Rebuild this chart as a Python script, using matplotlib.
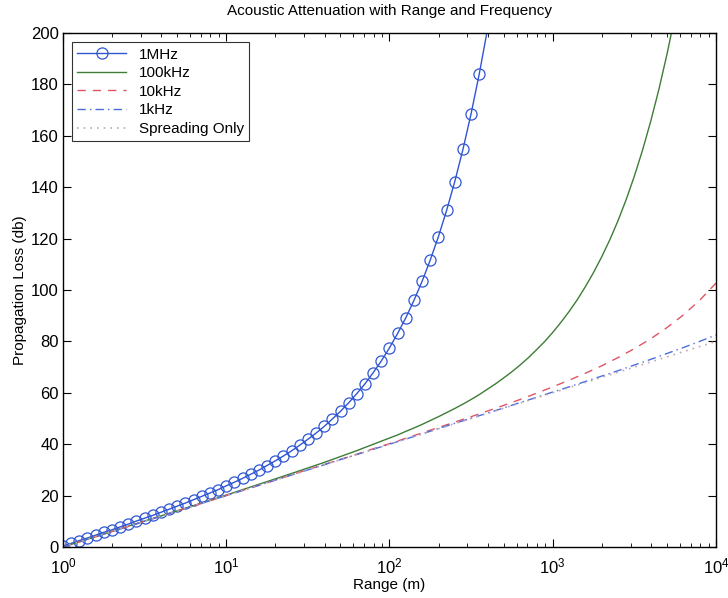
import numpy as np
import matplotlib
matplotlib.use('Agg')
import matplotlib.pyplot as plt

plt.rcParams['font.family'] = ['Liberation Sans', 'DejaVu Sans']

# range grid for the 1MHz markers (20 points per decade)
r_1mhz = [1.0, 1.122, 1.259, 1.413, 1.585, 1.778, 1.995, 2.239, 2.512, 2.818,
          3.162, 3.548, 3.981, 4.467, 5.012, 5.623, 6.310, 7.079, 7.943, 8.913,
          10.0, 11.22, 12.59, 14.13, 15.85, 17.78, 19.95, 22.39, 25.12, 28.18,
          31.62, 35.48, 39.81, 44.67, 50.12, 56.23, 63.10, 70.79, 79.43, 89.13,
          100.0, 112.2, 125.9, 141.3, 158.5, 177.8, 199.5, 223.9, 251.2, 281.8,
          316.2, 354.8, 398.1]
loss_1mhz = [0.4, 1.4, 2.5, 3.5, 4.6, 5.7, 6.7, 7.8, 8.9, 10.1,
             11.2, 12.3, 13.5, 14.7, 15.9, 17.1, 18.4, 19.7, 21.0, 22.3,
             23.8, 25.2, 26.7, 28.3, 29.9, 31.7, 33.5, 35.4, 37.4, 39.6,
             41.9, 44.3, 46.9, 49.8, 52.8, 56.1, 59.7, 63.5, 67.8, 72.4,
             77.5, 83.1, 89.2, 96.0, 103.4, 111.7, 120.8, 131.0, 142.2, 154.7,
             168.6, 184.1, 201.3]

# 100kHz, denser where the curve bends up
r_100khz = [1.0, 1.585, 2.512, 3.981, 6.310, 10.0, 15.85, 25.12, 39.81, 63.10,
            100.0, 112.2, 125.9, 141.3, 158.5, 177.8, 199.5, 223.9, 251.2,
            281.8, 316.2, 354.8, 398.1, 446.7, 501.2, 562.3, 631.0, 707.9,
            794.3, 891.3, 1000.0, 1122.0, 1259.0, 1413.0, 1585.0, 1778.0,
            1995.0, 2239.0, 2512.0, 2818.0, 3162.0, 3548.0, 3981.0, 4467.0,
            5012.0, 5623.0]
loss_100khz = [0.0, 4.0, 8.1, 12.1, 16.1, 20.2, 24.4, 28.6, 32.9, 37.5,
               42.4, 43.6, 45.0, 46.3, 47.7, 49.2, 50.7, 52.3, 53.9,
               55.6, 57.4, 59.3, 61.4, 63.5, 65.8, 68.2, 70.8, 73.6,
               76.7, 79.9, 83.5, 87.4, 91.6, 96.2, 101.3, 106.8,
               112.9, 119.6, 127.0, 135.2, 144.3, 154.4, 165.6, 178.0,
               191.8, 207.1]

# range grid for the low-frequency curves (10 points per decade)
r_grid = [1.0, 1.259, 1.585, 1.995, 2.512, 3.162, 3.981, 5.012, 6.310, 7.943,
          10.0, 12.59, 15.85, 19.95, 25.12, 31.62, 39.81, 50.12, 63.10, 79.43,
          100.0, 125.9, 158.5, 199.5, 251.2, 316.2, 398.1, 501.2, 631.0, 794.3,
          1000.0, 1259.0, 1585.0, 1995.0, 2512.0, 3162.0, 3981.0, 5012.0, 6310.0,
          7943.0, 10000.0]
loss_10khz = [0.0, 2.0, 4.0, 6.0, 8.0, 10.0, 12.0, 14.0, 16.0, 18.0,
              20.0, 22.0, 24.0, 26.0, 28.1, 30.1, 32.1, 34.1, 36.1, 38.2,
              40.2, 42.3, 44.4, 46.5, 48.6, 50.7, 52.9, 55.1, 57.4, 59.8,
              62.3, 64.9, 67.6, 70.5, 73.7, 77.2, 81.0, 85.4, 90.3, 96.0,
              102.7]
loss_1khz = [0.0, 2.0, 4.0, 6.0, 8.0, 10.0, 12.0, 14.0, 16.0, 18.0,
             20.0, 22.0, 24.0, 26.0, 28.0, 30.0, 32.0, 34.0, 36.0, 38.0,
             40.0, 42.0, 44.0, 46.1, 48.1, 50.1, 52.1, 54.1, 56.2, 58.2,
             60.3, 62.3, 64.4, 66.5, 68.6, 70.8, 73.0, 75.3, 77.6, 80.0,
             82.5]
loss_spread = [0.0, 2.0, 4.0, 6.0, 8.0, 10.0, 12.0, 14.0, 16.0, 18.0,
               20.0, 22.0, 24.0, 26.0, 28.0, 30.0, 32.0, 34.0, 36.0, 38.0,
               40.0, 42.0, 44.0, 46.0, 48.0, 50.0, 52.0, 54.0, 56.0, 58.0,
               60.0, 62.0, 64.0, 66.0, 68.0, 70.0, 72.0, 74.0, 76.0, 78.0,
               80.0]

fig = plt.figure(figsize=(7.28, 5.98), dpi=100)
ax = fig.add_axes([0.0865, 0.0853, 0.897, 0.8595])

ax.plot(r_1mhz, loss_1mhz, '-', color='#2f55d4', lw=1.0, marker='o',
        markersize=8, markerfacecolor='none', markeredgecolor='#2f55d4',
        markeredgewidth=0.9, markevery=slice(0, len(r_1mhz) - 1), label='1MHz')
ax.plot(r_100khz, loss_100khz, '-', color='#3d7d35', lw=1.0, label='100kHz')
ax.plot(r_grid, loss_10khz, '--', color='#e05565', lw=1.0, dashes=(6, 5),
        label='10kHz')
ax.plot(r_grid, loss_1khz, '-.', color='#4a6ee0', lw=1.0, dashes=(6, 3, 1, 3),
        label='1kHz')
ax.plot(r_grid, loss_spread, ':', color='#c0a8b0', lw=1.2, dashes=(1, 3),
        label='Spreading Only')

ax.set_xscale('log')
ax.set_xlim(1, 1e4)
ax.set_ylim(0, 200)
ax.set_yticks(np.arange(0, 201, 20))
ax.tick_params(which='both', direction='in', top=True, right=True,
               labelsize=12, colors='black')
ax.tick_params(axis='x', which='major', pad=7)
ax.tick_params(axis='y', which='major', pad=3)
ax.tick_params(which='major', length=6)
ax.tick_params(which='minor', length=3)
for s in ax.spines.values():
    s.set_linewidth(1.0)

ax.set_title('Acoustic Attenuation with Range and Frequency', fontsize=11,
             pad=13)
ax.set_xlabel('Range (m)', fontsize=11, labelpad=1)
ax.set_ylabel('Propagation Loss (db)', fontsize=11, labelpad=3)

leg = ax.legend(loc='upper left', fontsize=11, frameon=True, fancybox=False,
                edgecolor='black', borderaxespad=0.6, handlelength=3.2,
                labelspacing=0.3, borderpad=0.35)
leg.get_frame().set_linewidth(0.8)

plt.savefig('out.png', dpi=100)
